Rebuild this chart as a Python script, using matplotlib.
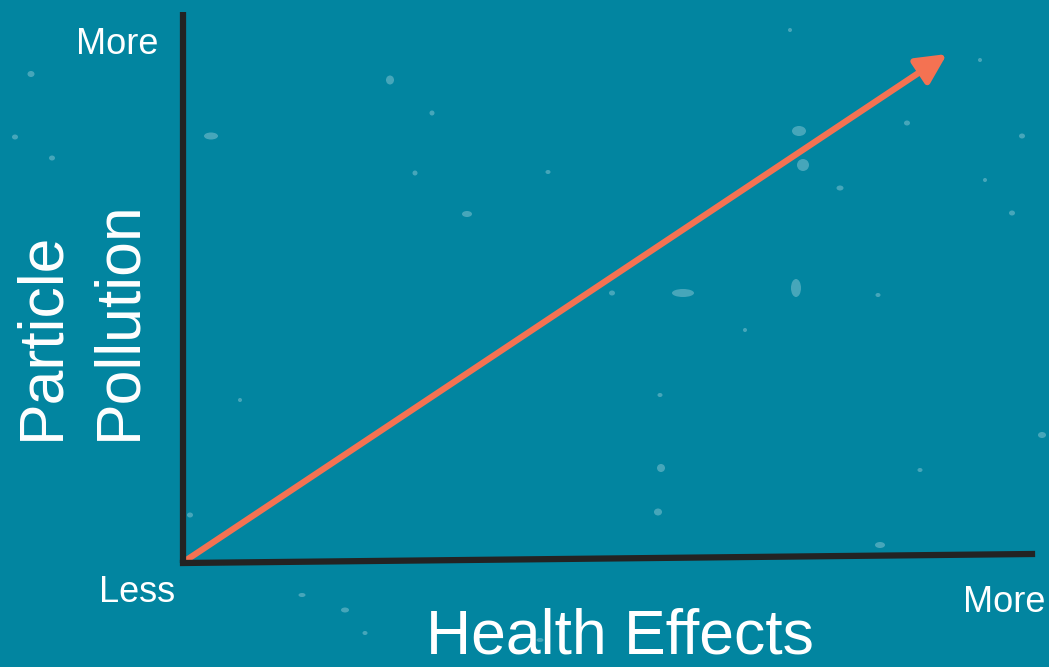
import matplotlib.pyplot as plt
from matplotlib.patches import Ellipse, FancyArrowPatch

plt.rcParams['font.family'] = ['Liberation Sans', 'DejaVu Sans']

W, H = 1049, 667
bg = '#0285a0'
axis_color = '#232323'
arrow_color = '#f47252'

# axis lines (pixel positions)
y_axis = [(183, 12), (183, 563)]
x_axis = [(183, 563), (1032, 554)]
trend = [(185, 561), (947, 54)]

# labels
end_labels = ['More', 'Less', 'More']
end_pos = [(117, 44), (137, 592), (1004, 602)]
x_title = 'Health Effects'
y_title = ['Particle', 'Pollution']

# background speckles (x, y, width, height)
speck_x = [31, 52, 15, 211, 390, 799, 803, 683, 796, 467, 661, 658, 432, 415,
           548, 612, 840, 907, 1012, 1042, 190, 302, 345, 365, 1022, 878,
           745, 660, 920, 985, 880, 240, 980, 540, 790]
speck_y = [74, 158, 137, 136, 80, 131, 165, 293, 288, 214, 468, 512, 113, 173,
           172, 293, 188, 123, 213, 435, 515, 595, 610, 633, 136, 295,
           330, 395, 470, 180, 545, 400, 60, 640, 30]
speck_w = [7, 6, 6, 14, 8, 14, 12, 22, 10, 10, 8, 8, 5, 5,
           5, 6, 7, 6, 6, 8, 6, 7, 8, 5, 6, 5,
           4, 5, 5, 4, 10, 4, 4, 7, 4]
speck_h = [6, 5, 5, 7, 9, 10, 12, 8, 18, 6, 8, 7, 5, 5,
           4, 5, 5, 5, 5, 6, 5, 4, 5, 4, 5, 4,
           4, 4, 4, 4, 6, 4, 4, 4, 4]

fig = plt.figure(figsize=(W / 100, H / 100), dpi=100)
fig.patch.set_facecolor(bg)
ax = fig.add_axes([0, 0, 1, 1])
ax.set_facecolor(bg)
ax.set_xlim(0, W)
ax.set_ylim(H, 0)
ax.axis('off')

for x, y, w, h in zip(speck_x, speck_y, speck_w, speck_h):
    ax.add_patch(Ellipse((x, y), w, h, color='#7fc3d1', alpha=0.55, lw=0))

ax.plot([p[0] for p in y_axis], [p[1] for p in y_axis], color=axis_color, lw=4.5,
        solid_capstyle='butt')
ax.plot([p[0] for p in x_axis], [p[1] for p in x_axis], color=axis_color, lw=4.5,
        solid_capstyle='projecting')

arrow = FancyArrowPatch(trend[0], trend[1],
                        arrowstyle='-|>,head_length=0.9,head_width=0.45',
                        mutation_scale=20, color=arrow_color, lw=4.5,
                        shrinkA=0, shrinkB=0)
ax.add_patch(arrow)

for txt, (x, y) in zip(end_labels, end_pos):
    ax.text(x, y, txt, color='white', fontsize=26, ha='center', va='center')

ax.text(620, 653, x_title, color='white', fontsize=45, ha='center', va='baseline')
ax.text(42, 440, y_title[0], color='white', fontsize=45, rotation=90,
        ha='center', va='bottom')
ax.text(119, 440, y_title[1], color='white', fontsize=45, rotation=90,
        ha='center', va='bottom')

fig.savefig('out.png', dpi=100, facecolor=bg)
